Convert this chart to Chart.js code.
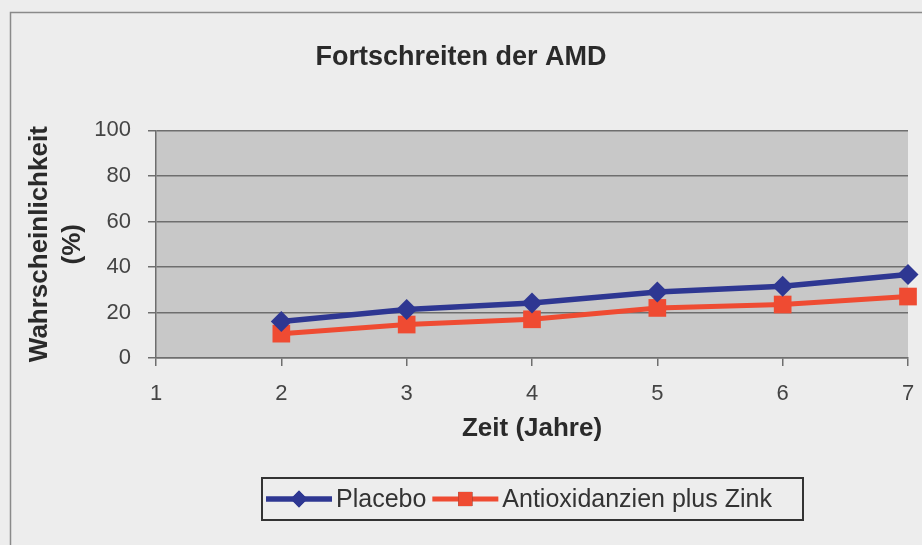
<!DOCTYPE html>
<html lang="de">
<head>
    <meta charset="UTF-8">
    <title>Fortschreiten der AMD</title>
    <script src="https://cdn.jsdelivr.net/npm/chart.js"></script>
    <style>
        html, body { margin: 0; padding: 0; background: #ededed; }
        #wrap { width: 922px; height: 545px; }
    </style>
</head>
<body>
    <div id="wrap"><canvas id="myChart" width="922" height="545"></canvas></div>

    <script>
        // Daten
        const jahre = [2, 3, 4, 5, 6, 7];
        const placebo = [16, 21.3, 24.2, 29, 31.5, 36.7];
        const antioxZink = [10.7, 14.7, 17, 22, 23.5, 27];
        const xTicks = [1, 2, 3, 4, 5, 6, 7];
        const yTicks = [0, 20, 40, 60, 80, 100];
        const serienNamen = ["Placebo", "Antioxidanzien plus Zink"];

        const schrift = "'Liberation Sans', Arial, sans-serif";
        const blau = "#2e3792";
        const rot = "#ef4b32";

        // Hintergrund, Rahmen und Zeichenfläche
        const hintergrund = {
            id: "hintergrund",
            beforeDraw(chart) {
                const { ctx, chartArea: a } = chart;
                ctx.save();
                ctx.fillStyle = "#ededed";
                ctx.fillRect(0, 0, chart.width, chart.height);
                ctx.strokeStyle = "#8a8a8a";
                ctx.lineWidth = 1.5;
                ctx.strokeRect(10.5, 12.5, 1200, 1200);
                ctx.fillStyle = "#c8c8c8";
                ctx.fillRect(a.left, a.top, a.right - a.left, a.bottom - a.top);
                ctx.restore();
            }
        };

        // Legende im Excel-Stil: Linie mit Marker
        const legende = {
            id: "legende",
            afterDraw(chart) {
                const ctx = chart.ctx;
                ctx.save();
                ctx.strokeStyle = "#333";
                ctx.lineWidth = 2;
                ctx.strokeRect(262, 478, 541, 42);
                ctx.font = "25px " + schrift;
                ctx.textBaseline = "middle";
                const y = 499;
                let x = 266;
                chart.data.datasets.forEach(ds => {
                    ctx.strokeStyle = ds.borderColor;
                    ctx.lineWidth = ds.borderWidth;
                    ctx.beginPath();
                    ctx.moveTo(x, y);
                    ctx.lineTo(x + 66, y);
                    ctx.stroke();
                    Chart.helpers.drawPoint(ctx, {
                        pointStyle: ds.pointStyle,
                        radius: ds.pointRadius * 0.8,
                        borderWidth: 0
                    }, x + 33, y);
                    ctx.fillStyle = ds.backgroundColor;
                    ctx.fill();
                    ctx.fillStyle = "#333";
                    ctx.fillText(ds.label, x + 70, y + 1);
                    x += 70 + ctx.measureText(ds.label).width + 6;
                });
                ctx.restore();
            }
        };

        const ctx = document.getElementById("myChart").getContext("2d");

        new Chart(ctx, {
            type: "line",
            data: {
                datasets: [{
                    label: serienNamen[0],
                    data: jahre.map((j, i) => ({ x: j, y: placebo[i] })),
                    borderColor: blau,
                    backgroundColor: blau,
                    borderWidth: 5.5,
                    pointStyle: "rectRot",
                    pointRadius: 10.5,
                    pointBorderWidth: 0,
                    clip: false
                }, {
                    label: serienNamen[1],
                    data: jahre.map((j, i) => ({ x: j, y: antioxZink[i] })),
                    borderColor: rot,
                    backgroundColor: rot,
                    borderWidth: 5,
                    pointStyle: "rect",
                    pointRadius: 12.5,
                    pointBorderWidth: 0,
                    clip: false
                }]
            },
            options: {
                responsive: false,
                animation: false,
                layout: { padding: { left: 14, right: 14, top: 0, bottom: 101 } },
                plugins: {
                    legend: { display: false },
                    tooltip: { enabled: false },
                    title: {
                        display: true,
                        text: "Fortschreiten der AMD",
                        color: "#2a2a2a",
                        font: { family: schrift, size: 27, weight: "bold", lineHeight: 1.2 },
                        padding: { top: 41, bottom: 57 }
                    }
                },
                scales: {
                    x: {
                        type: "linear",
                        min: 1,
                        max: 7,
                        afterBuildTicks: s => { s.ticks = xTicks.map(v => ({ value: v })); },
                        afterFit: s => { s.height = 86; s.paddingLeft = 0; s.paddingRight = 0; },
                        ticks: {
                            color: "#444",
                            padding: 15,
                            font: { family: schrift, size: 22 }
                        },
                        grid: { drawOnChartArea: false, drawTicks: true, tickLength: 8, color: "#6e6e6e", lineWidth: 1.5 },
                        border: { color: "#6e6e6e", width: 1.5 },
                        title: {
                            display: true,
                            text: "Zeit (Jahre)",
                            color: "#2a2a2a",
                            font: { family: schrift, size: 26, weight: "bold", lineHeight: 1.2 },
                            padding: { top: 0, bottom: 0 }
                        }
                    },
                    y: {
                        min: 0,
                        max: 100,
                        afterBuildTicks: s => { s.ticks = yTicks.map(v => ({ value: v })); },
                        afterFit: s => { s.width = 142; },
                        ticks: {
                            color: "#444",
                            padding: 17,
                            font: { family: schrift, size: 22 }
                        },
                        grid: { drawTicks: true, tickLength: 8, color: "#6e6e6e", lineWidth: 1.5 },
                        border: { color: "#6e6e6e", width: 1.5 },
                        title: {
                            display: true,
                            text: ["Wahrscheinlichkeit", "(%)"],
                            color: "#2a2a2a",
                            font: { family: schrift, size: 26, weight: "bold", lineHeight: 1.27 },
                            padding: { top: 9, bottom: 0 }
                        }
                    }
                }
            },
            plugins: [hintergrund, legende]
        });
    </script>
</body>
</html>
